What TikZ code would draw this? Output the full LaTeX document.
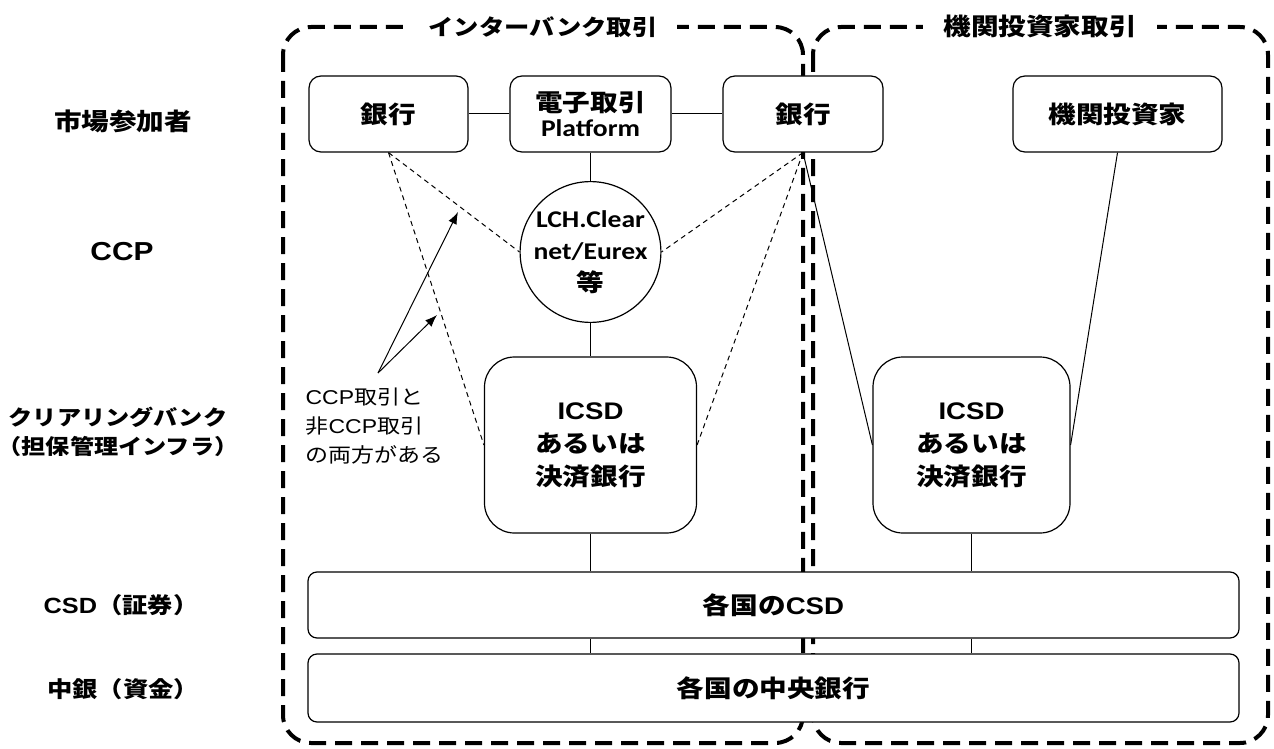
\documentclass[tikz,border=0pt]{standalone}
\usepackage{fontspec}
\setmainfont[FakeStretch=1.15]{Noto Sans CJK JP}
\newfontfamily\calfont[FakeStretch=1.15]{Carlito}
\newfontfamily\arialfont[FakeStretch=1.15]{Liberation Sans}
\usetikzlibrary{arrows.meta,positioning}

\begin{document}
\begin{tikzpicture}[
    x=1pt, y=-1pt, line width=1.2pt,
    box/.style={draw, fill=white, rounded corners=12pt, minimum width=160pt, minimum height=76pt,
        align=center, font=\bfseries\fontsize{24}{28}\selectfont},
    bigbox/.style={box, rounded corners=30pt, minimum width=206pt, minimum height=176pt,
        font=\bfseries\fontsize{24}{33}\selectfont},
    layer/.style={draw, fill=white, rounded corners=9pt, minimum width=931pt, minimum height=66pt,
        font=\bfseries\fontsize{24}{28}\selectfont},
    frame/.style={line width=4pt, dash pattern=on 17pt off 9pt, rounded corners=28pt},
    title/.style={fill=white, inner xsep=20pt, font=\bfseries\fontsize{22}{26}\selectfont},
    side/.style={align=center, font=\bfseries\fontsize{24}{29}\selectfont},
    link/.style={line width=1pt},
    maybe/.style={line width=1pt, dash pattern=on 5pt off 4pt},
    note/.style={-{Latex[length=12pt,width=9pt]}, line width=1pt}
]
    \useasboundingbox (0,0) rectangle (1274,749);

    % dashed frames
    \draw[frame] (283,27) rectangle (803,743);
    \draw[frame] (813,27) rectangle (1268,743);
    \node[title] (TINTER) at (543,27) {インターバンク取引};
    \node[title, font=\bfseries\fontsize{24}{28}\selectfont] (TINST) at (1040,26) {機関投資家取引};

    % layer labels
    \node[side] (LMARKET) at (123,121) {市場参加者};
    \node[side, font=\bfseries\arialfont\fontsize{26}{30}\selectfont] (LCCP) at (122,252) {CCP};
    \node[side, font=\bfseries\fontsize{21}{29}\selectfont] (LCLEAR) at (118,432) {クリアリングバンク\\（担保管理インフラ）};
    \node[side, font=\bfseries\fontsize{22}{26}\selectfont] (LCSD) at (121,605) {{\arialfont CSD}（証券）};
    \node[side, font=\bfseries\fontsize{22}{26}\selectfont] (LCB) at (123,689) {中銀（資金）};

    % participants
    \node[box, minimum width=159pt] (BANKL) at (388.5,114) {銀行};
    \node[box, right of=BANKL, node distance=202pt, minimum width=161pt] (PLATFORM)
        {電子取引\\[-3pt]{\calfont Platform}};
    \node[box, right of=PLATFORM, node distance=212.5pt] (BANKR) {銀行};
    \node[box, minimum width=209pt] (INVESTOR) at (1117.5,114) {機関投資家};

    % ccp
    \node[circle, draw, fill=white, minimum size=132pt, inner sep=0pt, align=center,
        font=\bfseries\fontsize{24}{32}\selectfont, below of=PLATFORM, node distance=138pt] (CLEARING)
        {{\calfont LCH.Clear}\\{\calfont net/Eurex}\\等};

    % clearing banks
    \node[bigbox, minimum width=212pt, below of=CLEARING, node distance=193pt] (ICSDL)
        {{\arialfont ICSD}\\あるいは\\決済銀行};
    \node[bigbox, minimum width=197pt] (ICSDR) at (971.5,445)
        {{\arialfont ICSD}\\あるいは\\決済銀行};

    % csd and central banks
    \node[layer] (CSD) at (773.5,605) {各国の{\arialfont CSD}};
    \node[layer, minimum height=68pt, below of=CSD, node distance=83pt] (CB) {各国の中央銀行};

    \draw[link] (BANKL) -- (PLATFORM);
    \draw[link] (PLATFORM) -- (BANKR);
    \draw[link] (PLATFORM) -- (CLEARING);
    \draw[link] (CLEARING) -- (ICSDL);
    \draw[link] (ICSDL.south) -- (ICSDL.south |- CSD.north);
    \draw[link] (ICSDR.south) -- (ICSDR.south |- CSD.north);
    \draw[link] (CSD.south -| ICSDL) -- (CB.north -| ICSDL);
    \draw[link] (CSD.south -| ICSDR) -- (CB.north -| ICSDR);

    \draw[maybe] (BANKL.south) -- (CLEARING.west);
    \draw[maybe] (BANKL.south) -- (ICSDL.west);
    \draw[maybe] (BANKR.south) -- (CLEARING.east);
    \draw[maybe] (BANKR.south) -- (ICSDL.east);
    \draw[link] (BANKR.south) -- (ICSDR.west);
    \draw[link] (INVESTOR.south) -- (ICSDR.east);

    % annotation
    \node[anchor=north west, align=left, inner sep=0pt, font=\fontsize{20}{29}\selectfont] (NOTE) at (305,387)
        {{\arialfont CCP}取引と\\非{\arialfont CCP}取引\\の両方がある};
    \coordinate (NOTEFROM) at (378,373);
    \coordinate (TIPUP) at (458,212);
    \coordinate (TIPLOW) at (437,315);
    \draw[note] (NOTEFROM) -- (TIPUP);
    \draw[note] (NOTEFROM) -- (TIPLOW);
\end{tikzpicture}
\end{document}
